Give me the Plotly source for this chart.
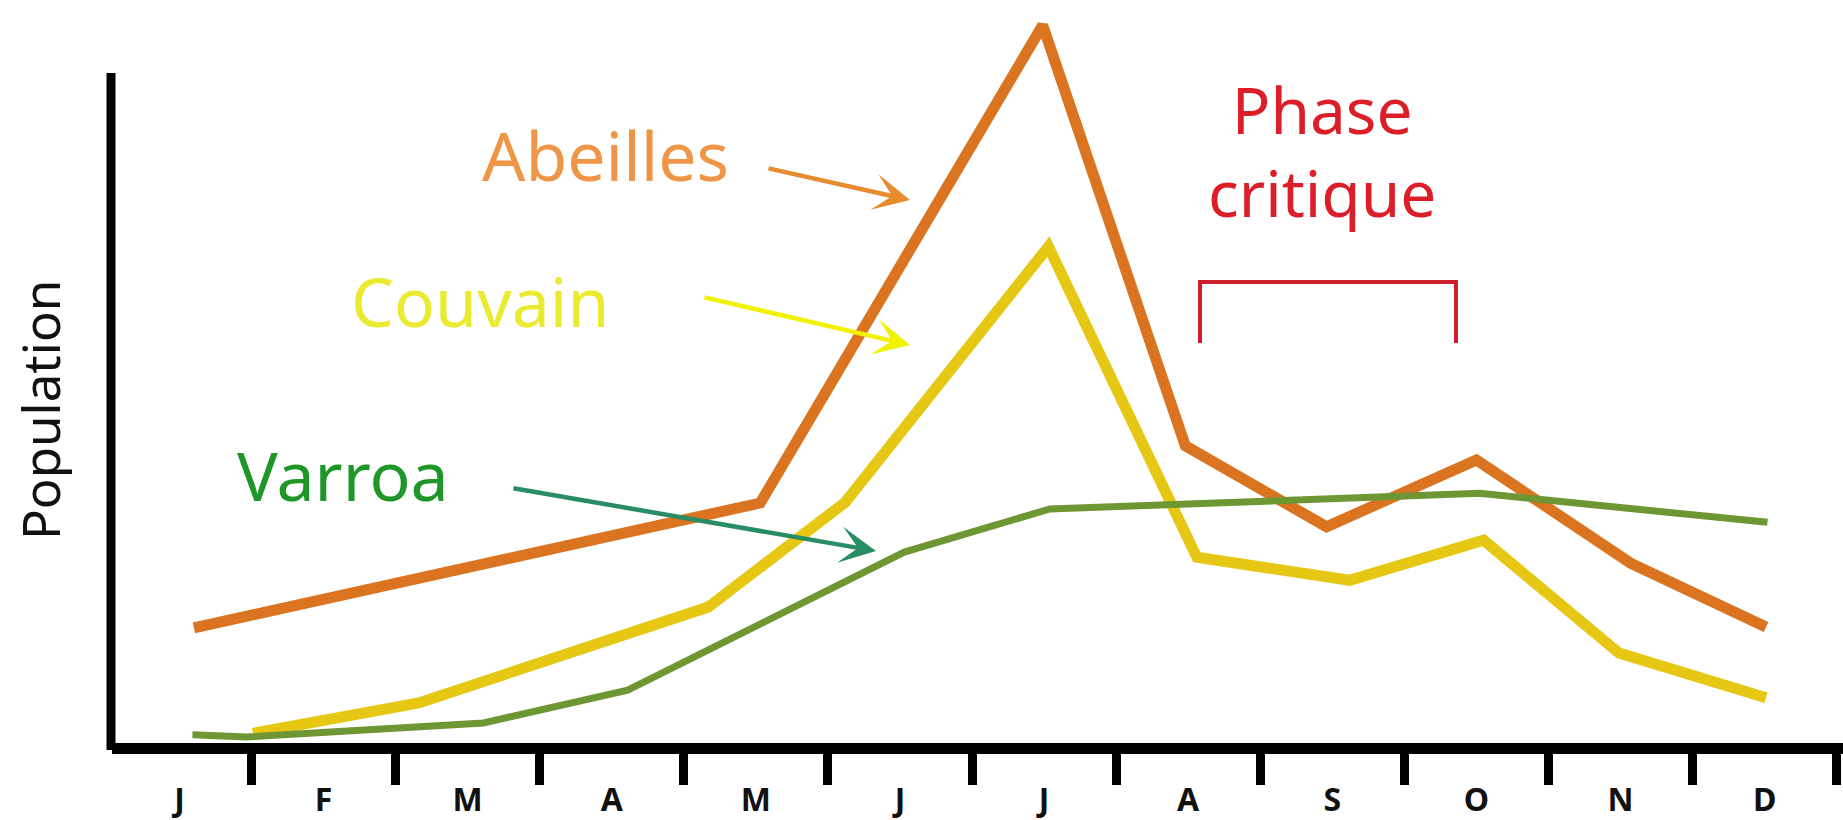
import plotly.graph_objects as go

# ---------------- data (x in month units: 0 = J ... 11 = D, y = relative population) ----------------
months = ["J", "F", "M", "A", "M", "J", "J", "A", "S", "O", "N", "D"]
month_pos = list(range(12))
month_bounds = [k + 0.5 for k in range(12)]

abeilles_x = [0.10, 4.03, 5.99, 6.98, 7.96, 9.00, 10.07, 11.01]
abeilles_y = [15.5, 32.3, 96.6, 40.0, 29.1, 38.1, 24.2, 15.6]

couvain_x = [0.51, 1.66, 3.67, 4.62, 6.03, 7.06, 8.12, 9.05, 9.99, 11.01]
couvain_y = [1.3, 5.4, 18.3, 32.4, 66.8, 25.0, 21.9, 27.3, 12.1, 6.1]

varroa_x = [0.09, 0.46, 2.11, 3.11, 5.03, 6.04, 9.02, 11.02]
varroa_y = [1.1, 0.8, 2.7, 7.1, 25.7, 31.5, 33.6, 29.7]

# ---------------- layout geometry ----------------
W, H = 1843, 820
PL, PB = 112, 77
PW, PH = W - PL, H - PB


def px(X):
    return (X - PL) / PW


def py(Y):
    return (PH - Y) / PH


FONT = "Noto Sans"

fig = go.Figure()
fig.add_trace(go.Scatter(x=abeilles_x, y=abeilles_y, mode="lines",
                         line=dict(color="#DB7420", width=11), hoverinfo="skip", showlegend=False))
fig.add_trace(go.Scatter(x=couvain_x, y=couvain_y, mode="lines",
                         line=dict(color="#E6C814", width=11), hoverinfo="skip", showlegend=False))
fig.add_trace(go.Scatter(x=varroa_x, y=varroa_y, mode="lines",
                         line=dict(color="#6E9632", width=7), hoverinfo="skip", showlegend=False))

annotations = [
    dict(text="Abeilles", x=px(605), y=py(155), font=dict(family=FONT, size=68, color="#EE9646")),
    dict(text="Couvain", x=px(480), y=py(300), font=dict(family=FONT, size=68, color="#EAEA30")),
    dict(text="Varroa", x=px(343), y=py(475), font=dict(family=FONT, size=68, color="#1E9628")),
    dict(text="Phase<br>critique", x=px(1322), y=py(151), font=dict(family=FONT, size=64, color="#DC1E28")),
    dict(text="Population", x=px(40), y=py(410), textangle=-90, font=dict(family=FONT, size=51, color="#111111")),
]
for a in annotations:
    a.update(xref="paper", yref="paper", showarrow=False, xanchor="center", yanchor="middle")

arrows = [
    ((910, 200), (767, 168), "#E88A2E"),
    ((910, 345), (703, 297), "#F2F200"),
    ((876, 551), (512, 488), "#288C64"),
]
for (tx, ty), (sx, sy), col in arrows:
    annotations.append(dict(text="", x=px(tx), y=py(ty), xref="paper", yref="paper",
                            ax=sx - tx, ay=sy - ty, showarrow=True, arrowhead=3,
                            arrowsize=1.35, arrowwidth=4.5, arrowcolor=col, standoff=0))

shapes = [
    # vertical axis line
    dict(type="line", xref="paper", yref="paper", x0=px(111), x1=px(111), y0=py(750), y1=py(73),
         line=dict(color="black", width=9)),
    # bracket of the critical phase
    dict(type="path", xref="paper", yref="paper",
         path=f"M {px(1200)},{py(343)} L {px(1200)},{py(282)} L {px(1456)},{py(282)} L {px(1456)},{py(343)}",
         line=dict(color="#CC1F2A", width=4)),
]

fig.update_layout(
    width=W, height=H,
    margin=dict(l=PL, r=0, t=0, b=PB, autoexpand=False),
    paper_bgcolor="white", plot_bgcolor="white",
    annotations=annotations, shapes=shapes,
    xaxis=dict(range=[(PL - 179.5) / 144.1, (W - 179.5) / 144.1], automargin=False,
               showgrid=False, zeroline=False,
               showline=True, linecolor="black", linewidth=11,
               tickmode="array", tickvals=month_pos, ticktext=months,
               ticks="outside", ticklen=19, tickcolor="rgba(0,0,0,0)",
               tickfont=dict(family=FONT, size=32, color="#111111", weight="bold"),
               minor=dict(tickmode="array", tickvals=month_bounds, ticks="outside",
                          ticklen=31, tickwidth=9, tickcolor="black", showgrid=False)),
    yaxis=dict(range=[0, 100], visible=False, automargin=False),
)

fig.write_html("out.html", config={"displayModeBar": False},
               post_script="document.body.style.margin='0';document.body.style.overflow='hidden';")
